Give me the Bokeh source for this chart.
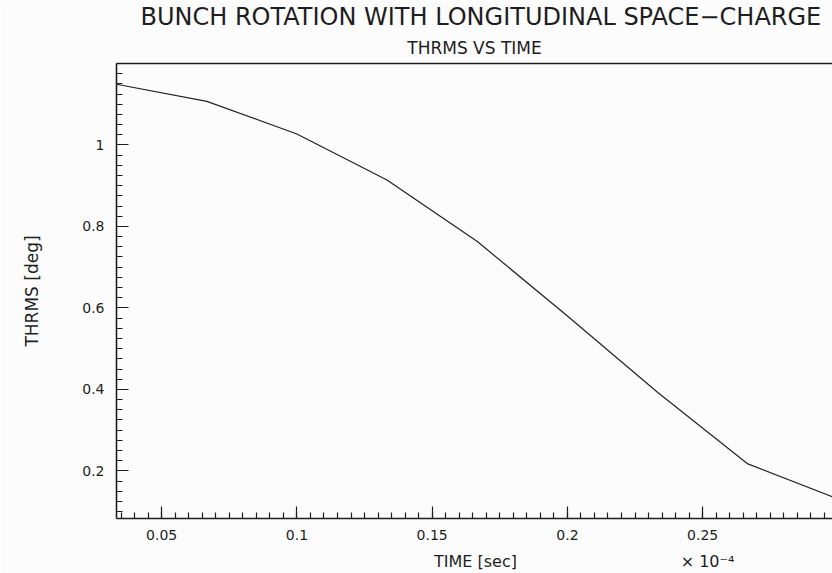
from bokeh.plotting import figure
from bokeh.models import LinearAxis, FixedTicker, Title
from bokeh.embed import file_html
from bokeh.resources import INLINE

# ---- data (time in units of 1e-4 s) ----
time_vals = [0.0333, 0.0667, 0.1, 0.1333, 0.1667, 0.2, 0.2333, 0.2667, 0.3]
thrms_vals = [1.149, 1.107, 1.027, 0.914, 0.763, 0.580, 0.393, 0.217, 0.131]

x_ticks = [0.05, 0.1, 0.15, 0.2, 0.25]
x_tick_labels = ["0.05", "0.1", "0.15", "0.2", "0.25"]
y_ticks = [0.2, 0.4, 0.6, 0.8, 1.0]
y_tick_labels = ["0.2", "0.4", "0.6", "0.8", "1"]

title_text = "BUNCH ROTATION WITH LONGITUDINAL SPACE\u2212CHARGE"
subtitle_text = "THRMS VS TIME"
x_label = "TIME [sec]"
y_label = "THRMS [deg]"
exp_label = "\u00d7 10\u207b\u2074"

X0, X1 = 0.0333, 0.298
Y0, Y1 = 0.083, 1.2

FONT = "DejaVu Sans"
INK = "#1e1e1e"
BG = "#fcfcfc"

W, H = 832, 573
FL = 116  # frame left (px)
FW = W - FL


def at_px(px):
    """x data position of a horizontal pixel offset (for text placement)."""
    return X0 + (px - FL) * (X1 - X0) / FW


p = figure(width=W, height=H, x_range=(X0, X1), y_range=(Y0, Y1),
           output_backend="svg", toolbar_location=None, title=None,
           x_axis_location=None, y_axis_location=None,
           min_border_left=FL, min_border_right=0,
           min_border_top=63, min_border_bottom=54)
p.background_fill_color = BG
p.border_fill_color = BG
p.outline_line_color = None
p.xgrid.visible = False
p.ygrid.visible = False

x_minor = [round(0.035 + 0.005 * i, 4) for i in range(54)]
y_minor = [round(0.1 + 0.025 * i, 4) for i in range(45)]

xaxis = LinearAxis(ticker=FixedTicker(ticks=x_ticks, minor_ticks=x_minor),
                   major_label_overrides=dict(zip(x_ticks, x_tick_labels)))
yaxis = LinearAxis(ticker=FixedTicker(ticks=y_ticks, minor_ticks=y_minor),
                   major_label_overrides=dict(zip(y_ticks, y_tick_labels)),
                   axis_label=y_label)
for ax in (xaxis, yaxis):
    ax.axis_line_color = INK
    ax.axis_line_width = 1.6
    ax.major_tick_line_color = INK
    ax.minor_tick_line_color = INK
    ax.major_tick_line_width = 1.2
    ax.minor_tick_line_width = 1.2
    ax.major_tick_in = 12
    ax.major_tick_out = 0
    ax.minor_tick_in = 6
    ax.minor_tick_out = 0
    ax.major_label_text_font = FONT
    ax.major_label_text_font_size = "14px"
    ax.major_label_text_color = INK
xaxis.major_label_standoff = 11
yaxis.major_label_standoff = 12
yaxis.axis_label_text_font = FONT
yaxis.axis_label_text_font_size = "17px"
yaxis.axis_label_text_font_style = "normal"
yaxis.axis_label_text_color = INK
yaxis.axis_label_standoff = 37
p.add_layout(xaxis, "below")
p.add_layout(yaxis, "left")

# second row under the x axis: axis title and the x10^-4 multiplier
label_pos = [at_px(475), at_px(707)]
label_row = LinearAxis(ticker=FixedTicker(ticks=label_pos, minor_ticks=[]),
                       major_label_overrides=dict(zip(label_pos, [x_label, exp_label])),
                       axis_line_color=None, major_tick_line_color=None,
                       minor_tick_line_color=None, major_label_standoff=3,
                       major_label_text_font=FONT, major_label_text_font_size="16px",
                       major_label_text_color=INK)
p.add_layout(label_row, "below")

# top frame border
top = LinearAxis(ticker=FixedTicker(ticks=[], minor_ticks=[]),
                 major_tick_line_color=None, minor_tick_line_color=None,
                 axis_line_color=INK, axis_line_width=1.6)
p.add_layout(top, "above")

p.add_layout(Title(text=subtitle_text, align="center", text_font=FONT,
                   text_font_size="17px", text_font_style="normal",
                   text_color=INK, standoff=12), "above")
p.add_layout(Title(text=title_text, align="left", offset=24, text_font=FONT,
                   text_font_size="24px", text_font_style="normal",
                   text_color=INK, standoff=-2), "above")

p.line(time_vals, thrms_vals, line_color="#222222", line_width=1.2)

open("out.html", "w").write(file_html(p, INLINE))
